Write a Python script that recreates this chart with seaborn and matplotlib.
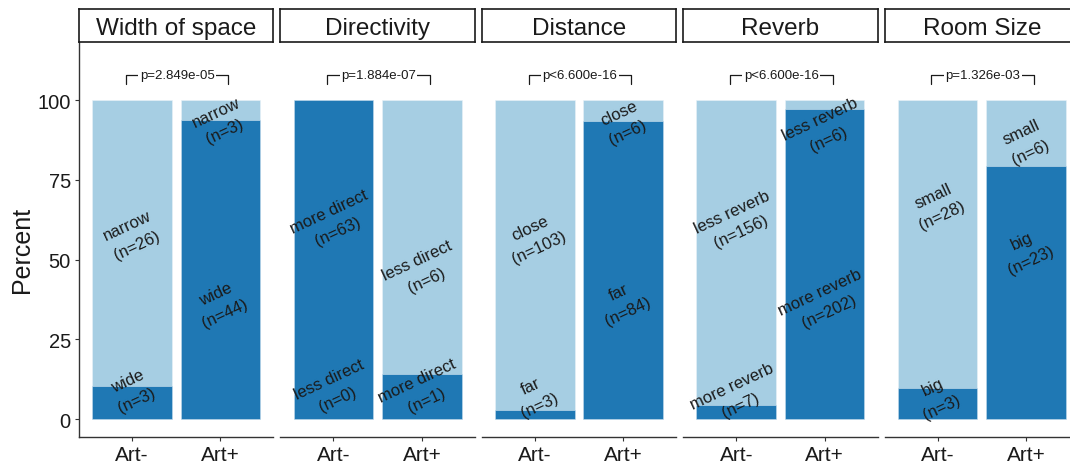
import numpy as np
import pandas as pd
import matplotlib
matplotlib.use("Agg")
import matplotlib.pyplot as plt
import seaborn as sns

# ---------------- data ----------------
facets = ["Width of space", "Directivity", "Distance", "Reverb", "Room Size"]
groups = ["Art-", "Art+"]
dark_names = ["wide", "more direct", "far", "more reverb", "big"]
light_names = ["narrow", "less direct", "close", "less reverb", "small"]
dark_n_minus = [3, 63, 3, 7, 3]
light_n_minus = [26, 0, 103, 156, 28]
dark_n_plus = [44, 1, 84, 202, 23]
light_n_plus = [3, 6, 6, 6, 6]
p_labels = ["p=2.849e-05", "p=1.884e-07", "p<6.600e-16", "p<6.600e-16", "p=1.326e-03"]
y_ticks = [0, 25, 50, 75, 100]

# label layout offsets (percent units) from segment centres:
# order per facet: Art- light, Art- dark, Art+ dark, Art+ light
label_nudge = [
    [2.5, 3.8, -10.4, -3.5],
    [-90.6, 12.0, 1.9, -10.4],
    [5.6, 6.1, -9.7, -3.7],
    [9.9, 5.3, -11.6, -7.6],
    [12.2, 2.2, 13.3, -2.7],
]

# ---------------- style ----------------
DARK = "#1f78b4"
LIGHT = "#a6cee3"
TXT = "#1a1a1a"
LINE = "#333333"
sns.set_theme(style="ticks")
plt.rcParams["font.family"] = ["Liberation Sans", "DejaVu Sans"]

W, H = 1070, 464
PX = 72 / 100  # points per pixel at dpi 100
fig = plt.figure(figsize=(W / 100, H / 100), dpi=100)
fig.patch.set_facecolor("white")

panel_left0, panel_step, panel_w = 79, 201.4, 194.5
panel_top, panel_bottom = 43, 438
strip_top = 10

for i, facet in enumerate(facets):
    left = panel_left0 + i * panel_step
    ax = fig.add_axes([left / W, (H - panel_bottom) / H, panel_w / W,
                       (panel_bottom - panel_top) / H])
    df = pd.DataFrame({
        "group": groups,
        "dark": [dark_n_minus[i], dark_n_plus[i]],
        "light": [light_n_minus[i], light_n_plus[i]],
    })
    df["total"] = df["dark"] + df["light"]
    df["full"] = df["total"] / df["total"] * 100
    df["dark_pct"] = df["dark"] / df["total"] * 100
    df["light_pct"] = df["light"] / df["total"] * 100

    sns.barplot(data=df, x="group", y="full", color=LIGHT, saturation=1,
                width=0.9, edgecolor="#e8f2f8", linewidth=0.4, errorbar=None, ax=ax)
    sns.barplot(data=df, x="group", y="dark_pct", color=DARK, saturation=1,
                width=0.9, edgecolor="#cfe3f0", linewidth=0.4, errorbar=None, ax=ax)

    ax.set_xlim(-0.6, 1.6)
    ax.set_ylim(-5.6, 118.2)
    ax.set_xlabel("")
    ax.set_ylabel("")
    ax.set_facecolor("none")
    for s in ["top", "right"]:
        ax.spines[s].set_visible(False)
    ax.spines["bottom"].set_color(LINE)
    ax.spines["bottom"].set_linewidth(1.0)
    ax.tick_params(axis="x", length=4 * PX, width=0.8, color=LINE,
                   labelsize=15, labelcolor=TXT, pad=3)
    if i == 0:
        ax.set_yticks(y_ticks)
        ax.spines["left"].set_color(LINE)
        ax.spines["left"].set_linewidth(1.0)
        ax.tick_params(axis="y", length=4 * PX, width=0.8, color=LINE,
                       labelsize=14.5, labelcolor=TXT, pad=3)
    else:
        ax.set_yticks([])
        ax.spines["left"].set_visible(False)

    # segment labels
    nud = label_nudge[i]
    segs = [
        (0, df["dark_pct"][0] + df["light_pct"][0] / 2, light_names[i], df["light"][0], nud[0]),
        (0, df["dark_pct"][0] / 2, dark_names[i], df["dark"][0], nud[1]),
        (1, df["dark_pct"][1] / 2, dark_names[i], df["dark"][1], nud[2]),
        (1, df["dark_pct"][1] + df["light_pct"][1] / 2, light_names[i], df["light"][1], nud[3]),
    ]
    for xpos, yc, name, n, dy in segs:
        ax.text(xpos, yc + dy, f"{name}\n(n={n})", ha="center", va="center",
                rotation=25, rotation_mode="anchor", multialignment="center",
                linespacing=1.55, fontsize=12, color=TXT, zorder=5)

    # significance bracket
    ax.plot([-0.07, -0.07, 1.09, 1.09], [105, 107.8, 107.8, 105],
            color=TXT, lw=0.9, clip_on=False, zorder=4)
    ax.text(0.51, 107.8, p_labels[i], ha="center", va="center", fontsize=9.5,
            color=TXT, zorder=6,
            bbox=dict(facecolor="white", edgecolor="none", pad=1.0))

    # facet strip
    sax = fig.add_axes([left / W, (H - panel_top) / H, panel_w / W,
                        (panel_top - strip_top) / H])
    sax.set_xticks([])
    sax.set_yticks([])
    sax.set_facecolor("white")
    for s in sax.spines.values():
        s.set_visible(True)
        s.set_color("#1a1a1a")
        s.set_linewidth(1.2)
    sax.text(0.5, 0.23, facet, ha="center", va="baseline", fontsize=17.5,
             color=TXT, transform=sax.transAxes)

fig.text(22 / W, 1 - 250 / H, "Percent", rotation=90, ha="center", va="center",
         fontsize=18, color=TXT)

fig.savefig("out.png", dpi=100, facecolor="white")
